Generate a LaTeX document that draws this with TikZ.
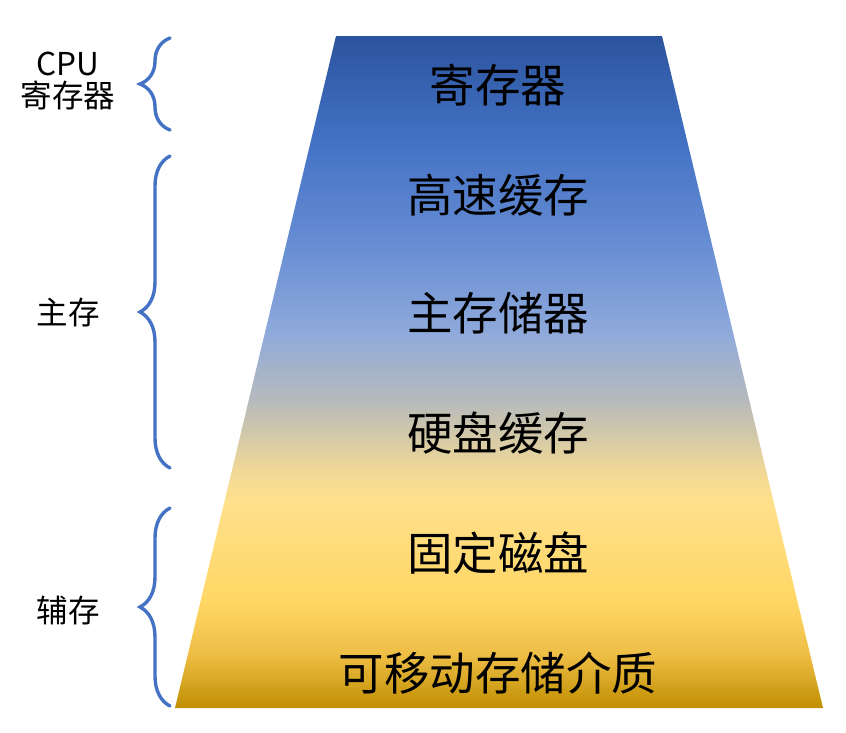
\documentclass[tikz,border=0pt]{standalone}
\usepackage{fontspec}
\setmainfont{Noto Sans CJK SC}
\usetikzlibrary{decorations.pathreplacing}
\usepackage{xcolor}

\definecolor{regblue}{RGB}{44,84,158}
\definecolor{midblue}{RGB}{66,113,196}
\definecolor{skyblue}{RGB}{106,143,212}
\definecolor{paleblue}{RGB}{142,169,219}
\definecolor{greyband}{RGB}{182,186,188}
\definecolor{paleyel}{RGB}{240,216,150}
\definecolor{lightyel}{RGB}{255,224,140}
\definecolor{gold}{RGB}{255,215,100}
\definecolor{deepgold}{RGB}{238,190,70}
\definecolor{darkgold}{RGB}{192,142,0}
\definecolor{bracecol}{RGB}{68,114,196}

%% shading: 25bp = bottom edge, 75bp = top edge
\pgfdeclareverticalshading{memgrad}{100bp}{
  color(0bp)=(darkgold); color(25bp)=(darkgold);
  color(29bp)=(deepgold); color(33bp)=(gold);
  color(40.4bp)=(lightyel); color(42.7bp)=(paleyel);
  color(47.9bp)=(greyband); color(53.1bp)=(paleblue);
  color(59bp)=(skyblue); color(67.3bp)=(midblue);
  color(75bp)=(regblue); color(100bp)=(regblue)}

\begin{document}
\begin{tikzpicture}[x=1pt, y=-1pt,
    layer/.style={font=\fontsize{45.5}{50}\selectfont, inner sep=0pt},
    side/.style={font=\fontsize{31.5}{36}\selectfont, inner sep=0pt, align=center},
    brc/.style={draw=bracecol, line width=3.4pt, line cap=round,
                decorate, decoration={brace, amplitude=30pt}}]

  \useasboundingbox (0,0) rectangle (846,732);

  %% pyramid body
  \shade[shading=memgrad] (336,36) -- (662,36) -- (823,708) -- (175,708) -- cycle;

  %% levels
  \node[layer] (reg)  at (498, 85) {寄存器};
  \node[layer] (cache) at (498,195) {高速缓存};
  \node[layer] (main) at (498,313) {主存储器};
  \node[layer] (hdc)  at (498,433) {硬盘缓存};
  \node[layer] (disk) at (498,553) {固定磁盘};
  \node[layer] (rem)  at (498,673) {可移动存储介质};

  %% braces
  \coordinate (cpuT) at (170, 38);  \coordinate (cpuB) at (170,130);
  \coordinate (mainT) at (170,156); \coordinate (mainB) at (170,468);
  \coordinate (auxT) at (170,508);  \coordinate (auxB) at (170,706);
  \draw[brc] (cpuB) -- (cpuT);
  \draw[brc] (mainB) -- (mainT);
  \draw[brc] (auxB) -- (auxT);

  %% group labels
  \node[side] (cpu) at (68, 81) {CPU\\[-4pt]寄存器};
  \node[side] (mem) at (68,313) {主存};
  \node[side] (aux) at (68,611) {辅存};
\end{tikzpicture}
\end{document}
